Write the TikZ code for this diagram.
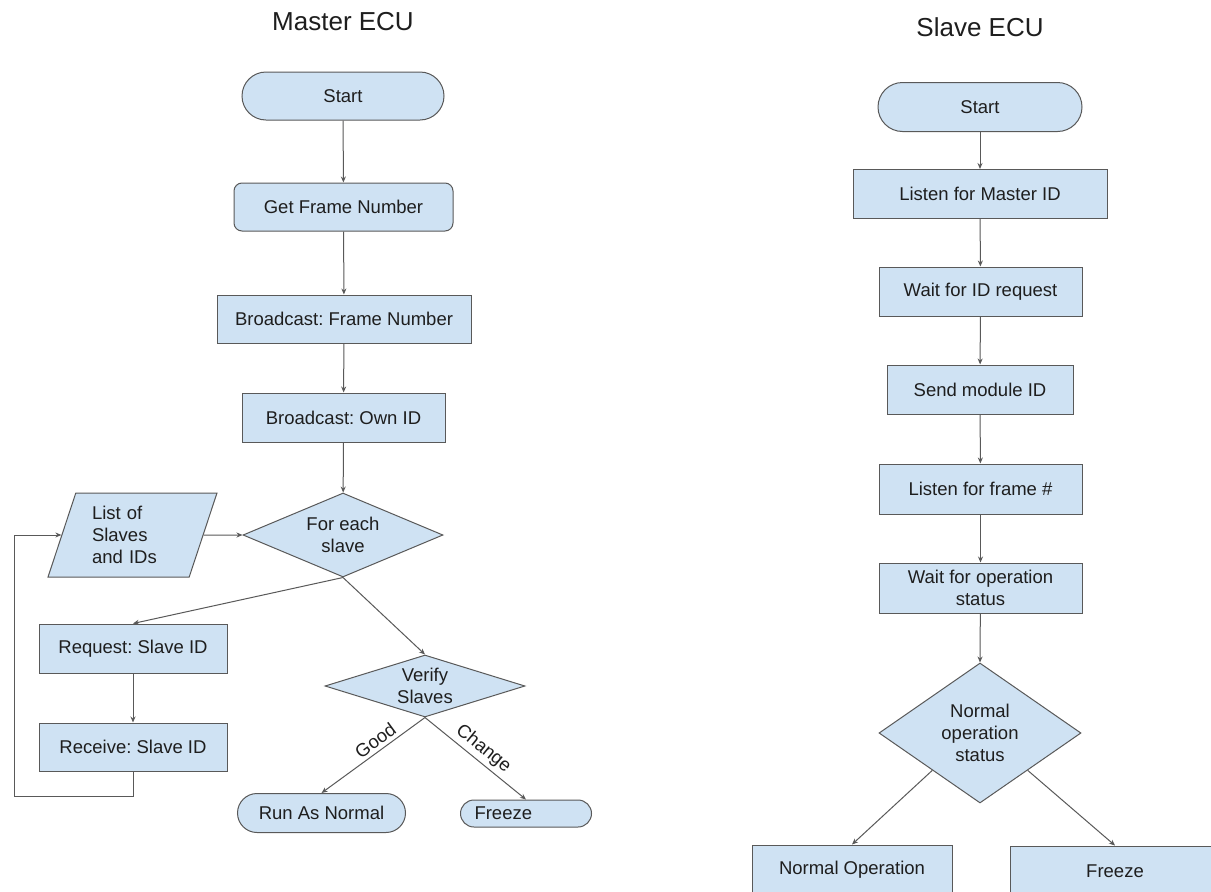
\documentclass[tikz,border=0pt]{standalone}
\usepackage{fontspec}
\setmainfont{Liberation Sans}
\usetikzlibrary{shapes.geometric,arrows.meta,calc}
\definecolor{boxfill}{HTML}{CFE2F3}
\definecolor{boxline}{HTML}{595959}
\definecolor{txt}{HTML}{1E1E1E}
\frenchspacing
\begin{document}
\begin{tikzpicture}[x=1pt,y=-1pt,
  lbl/.style={text=txt, font=\frenchspacing\fontsize{18.5}{22}\selectfont, align=center},
  base/.style={lbl, draw=boxline, fill=boxfill, line width=1pt, inner sep=0pt},
  box/.style={base, rectangle, minimum width=#1, minimum height=49},
  term/.style={base, rectangle, minimum width=#1},
  dia/.style={base, diamond},
  arr/.style={draw=boxline, line width=1pt, -{Stealth[length=6pt,width=5pt]}},
  title/.style={text=txt, font=\fontsize{26}{30}\selectfont}]
\clip (0,0) rectangle (1211,892);
\fill[white] (0,0) rectangle (1211,892);

% ---------- Master ECU ----------
\node[title] (t1) at (343,22) {Master ECU};
\node[term=202, minimum height=48, rounded corners=24] (ms) at (343,96) {Start};
\node[box=219, minimum height=48, rounded corners=8] (gfn) at (343.5,207) {Get Frame Number};
\node[box=254, minimum height=48] (bfn) at (344,319) {Broadcast: Frame Number};
\node[box=203] (boi) at (343.5,417.5) {Broadcast: Own ID};
\node[dia, minimum width=200, minimum height=84,
      label={[lbl]center:For each\\slave}] (fes) at (343,535) {};
\node[base, trapezium, trapezium left angle=71, trapezium right angle=109,
      trapezium stretches=true, minimum width=169, minimum height=84,
      text width=81, align=left] (list) at (132.5,535) {List of\\Slaves\\and IDs};
\node[box=188] (req) at (133,648.5) {Request: Slave ID};
\node[box=188, minimum height=48] (rec) at (133,747) {Receive: Slave ID};
\node[dia, minimum width=200, minimum height=62,
      label={[lbl]center:Verify\\Slaves}] (ver) at (425,686) {};
\node[term=168, minimum height=39, rounded corners=19.5] (run) at (321.5,813) {Run As Normal};
\node[term=131, minimum height=27, rounded corners=13.5, text width=103, align=left] (mfr) at (526,813.5) {Freeze};

\draw[arr] (ms) -- (gfn);
\draw[arr] (gfn) -- (bfn);
\draw[arr] (bfn) -- (boi);
\draw[arr] (boi) -- (fes);
\draw[arr] (list.east) -- (fes.west);
\draw[arr] (fes.south) -- (req.north);
\draw[arr] (req) -- (rec);
\draw[arr] (fes.south) -- (ver.north);
\coordinate (lp) at (14,796);
\draw[arr] (rec.south) |- (lp) |- (list.west);
\draw[arr] (ver.south) -- node[lbl, sloped, above, pos=0.42] {Good} (run.north);
\draw[arr] (ver.south) -- node[lbl, sloped, above, pos=0.5] {Change} (mfr.north);

% ---------- Slave ECU ----------
\node[title] (t2) at (980,27) {Slave ECU};
\node[term=204, minimum height=49, rounded corners=24.5] (ss) at (980,107) {Start};
\node[box=254] (lmi) at (980,194) {Listen for Master ID};
\node[box=203] (wir) at (980.5,291.5) {Wait for ID request};
\node[box=186] (smi) at (980,389.5) {Send module ID};
\node[box=203, minimum height=50] (lfr) at (980.5,489) {Listen for frame \#};
\node[box=203, minimum height=50] (wos) at (980.5,588) {Wait for operation\\status};
\node[dia, minimum width=202, minimum height=140,
      label={[lbl]center:Normal\\operation\\status}] (nos) at (980,733) {};
\node[box=200, minimum height=50] (nop) at (852,870) {Normal Operation};
\node[box=210, minimum height=50] (sfr) at (1115,871) {Freeze};

\draw[arr] (ss) -- (lmi);
\draw[arr] (lmi) -- (wir);
\draw[arr] (wir) -- (smi);
\draw[arr] (smi) -- (lfr);
\draw[arr] (lfr) -- (wos);
\draw[arr] (wos) -- (nos.north);
\draw[arr] ($(nos.west)!0.53!(nos.south)$) -- (nop.north);
\draw[arr] ($(nos.east)!0.53!(nos.south)$) -- (sfr.north);
\end{tikzpicture}
\end{document}
